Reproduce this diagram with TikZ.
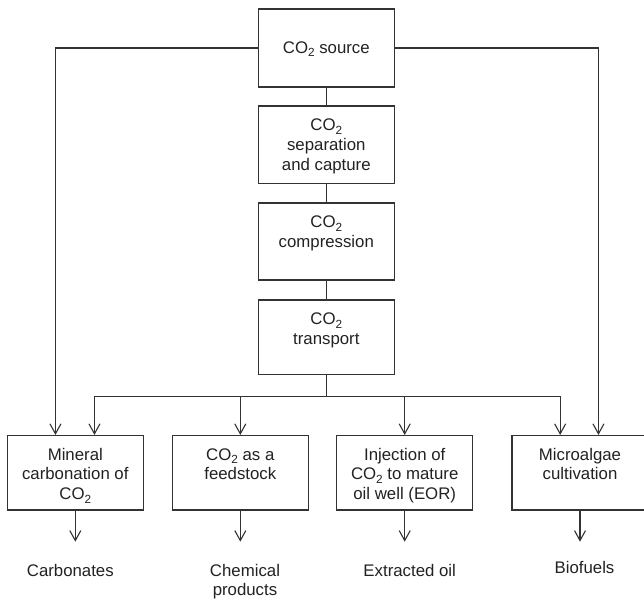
\documentclass[tikz,border=0pt]{standalone}
\usepackage{fontspec}
\setmainfont{Liberation Sans}
\usetikzlibrary{arrows.meta,calc}
\definecolor{ln}{HTML}{333333}
\definecolor{tx}{HTML}{222222}
\newcommand{\btext}[3]{\parbox[c][#1][t]{136bp}{\centering\rule{0pt}{#2}#3}}
\newcommand{\two}{\raisebox{-0.22em}{\fontsize{11.8bp}{12bp}\selectfont 2}}
\begin{document}
\begin{tikzpicture}[x=1bp,y=-1bp,
  every node/.style={font=\fontsize{16.8bp}{19.8bp}\selectfont, text=tx},
  stepbox/.style={draw=ln, line width=1.1bp, inner sep=0pt, fill=white},
  lab/.style={inner sep=0pt, anchor=base},
  conn/.style={draw=ln, line width=1.1bp},
  arr/.style={conn, -{Straight Barb[length=10bp,width=11bp,line width=1.1bp]}}]
\useasboundingbox (0,0) rectangle (644,600);
\clip (0,0) rectangle (644,600);
% top chain
\node[stepbox] (src)   at (326.3,48)     {\btext{78bp}{44.3bp}{CO\two{} source}};
\node[stepbox] (sep)   at (326.3,144.75) {\btext{77.5bp}{24.5bp}{CO\two\\separation\\and capture}};
\node[stepbox] (comp)  at (326.3,241.5)  {\btext{77bp}{24.8bp}{CO\two\\compression}};
\node[stepbox] (trans) at (326.3,337.15) {\btext{74.3bp}{24.5bp}{CO\two\\transport}};
% bottom row
\node[stepbox] (mc)  at (75.3,472.75)  {\btext{74.5bp}{24.5bp}{Mineral\\carbonation of\\CO\two}};
\node[stepbox] (fs)  at (240.3,472.75) {\btext{74.5bp}{24.5bp}{CO\two{} as a\\feedstock}};
\node[stepbox] (eor) at (404.7,472.75) {\btext{74.5bp}{24.5bp}{Injection of\\CO\two{} to mature\\oil well (EOR)}};
\node[stepbox] (ma)  at (580,472.75)   {\btext{74.5bp}{24.5bp}{Microalgae\\cultivation}};
% products
\node[lab] (carb) at (70.3,576)  {Carbonates};
\node[lab] (chem) at (245,576)   {\parbox[t]{100bp}{\centering Chemical\\products}};
\node[lab] (oil)  at (409.7,576) {Extracted oil};
\node[lab] (bio)  at (584.5,573.3) {Biofuels};
% chain links
\draw[conn] (src) -- (sep);
\draw[conn] (sep) -- (comp);
\draw[conn] (comp) -- (trans);
% side bypasses
\draw[arr] (src.west) -| ($(mc.north west)+(48.7,0)$);
\draw[arr] (src.east) -| ($(ma.north west)+(87,0)$);
% distribution bus
\coordinate (bus) at (326.3,396.7);
\draw[conn] (trans.south) -- (bus);
\draw[arr] (bus) -| ($(mc.north west)+(87.7,0)$);
\draw[arr] (bus) -| (fs.north);
\draw[arr] (bus) -| (eor.north);
\draw[arr] (bus) -| ($(ma.north west)+(48.7,0)$);
% outputs
\coordinate (t1) at (75.3,541.7);
\coordinate (t2) at (240.3,541.7);
\coordinate (t3) at (404.7,541.7);
\coordinate (t4) at (580,541.7);
\draw[arr] (mc.south) -- (t1);
\draw[arr] (fs.south) -- (t2);
\draw[arr] (eor.south) -- (t3);
\draw[arr] (ma.south) -- (t4);
\end{tikzpicture}
\end{document}
